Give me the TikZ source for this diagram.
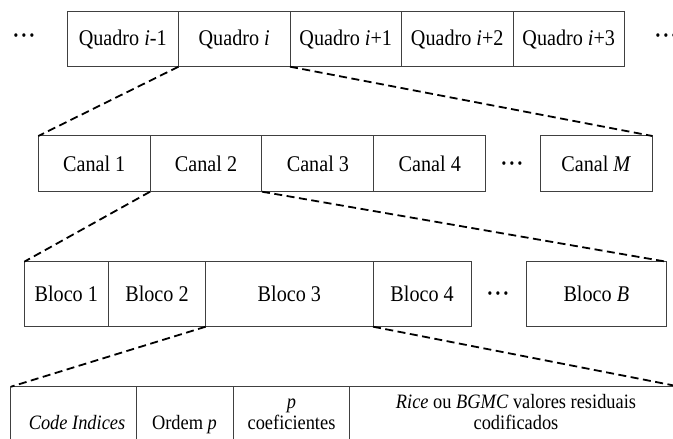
\documentclass[tikz,border=0pt]{standalone}
\usepackage{fontspec}
\setmainfont{Liberation Serif}[FakeStretch=0.9]
\newcommand{\tdots}{•\hspace{3.2bp}•\hspace{3.2bp}•}
\begin{document}
\begin{tikzpicture}[x=1bp,y=-1bp,
  cell/.style args={#1/#2}{draw=black!75, line width=1bp, inner sep=0pt, outer sep=0pt,
    minimum width=#1bp, minimum height=#2bp, font=\fontsize{22.5}{26}\selectfont},
  conn/.style={draw=black, line width=1.8bp, dash pattern=on 8bp off 4.5bp},
  dots/.style={inner sep=0pt, anchor=base, font=\fontsize{15}{18}\selectfont},
  txt/.style={inner sep=0pt, align=center, anchor=base, font=\fontsize{20.5}{21}\selectfont}
]
\useasboundingbox (0,0) rectangle (673,439);
\clip (0,0) rectangle (673,439);

% row 1
\node[cell=111.5/55] (q1) at (122.75,39.2) {Quadro \textit{i}-1};
\node[cell=111.5/55] (q2) at (234.25,39.2) {Quadro \textit{i}};
\node[cell=111.5/55] (q3) at (345.75,39.2) {Quadro \textit{i}+1};
\node[cell=111.5/55] (q4) at (457.25,39.2) {Quadro \textit{i}+2};
\node[cell=111.5/55] (q5) at (568.75,39.2) {Quadro \textit{i}+3};
\node[dots] (dl) at (24,41) {\tdots};
\node[dots] (dr) at (666,41) {\tdots};

% row 2
\node[cell=111.85/55.7] (c1) at (94.2,163.85) {Canal 1};
\node[cell=111.85/55.7] (c2) at (206.05,163.85) {Canal 2};
\node[cell=111.85/55.7] (c3) at (317.9,163.85) {Canal 3};
\node[cell=111.85/55.7] (c4) at (429.75,163.85) {Canal 4};
\node[dots] (cd) at (512,168.3) {\tdots};
\node[cell=112/55.7] (cM) at (596.3,163.85) {Canal \textit{M}};

% row 3
\node[cell=84/65] (b1) at (66.3,294.2) {Bloco 1};
\node[cell=97.4/65] (b2) at (157,294.2) {Bloco 2};
\node[cell=167.3/65] (b3) at (289.35,294.2) {Bloco 3};
\node[cell=98.3/65] (b4) at (422.15,294.2) {Bloco 4};
\node[dots] (bd) at (498,298.3) {\tdots};
\node[cell=140/65] (bB) at (596.3,294.2) {Bloco \textit{B}};

% row 4
\node[cell=125/70] (d1) at (73.5,421.7) {};
\node[cell=97.3/70] (d2) at (184.65,421.7) {};
\node[cell=116.4/70] (d3) at (291.5,421.7) {};
\node[cell=330.3/70] (d4) at (514.85,421.7) {};
\node[txt] (t1) at (77,429) {\textit{Code Indices}};
\node[txt] (t2) at (184.5,429) {Ordem \textit{p}};
\node[txt] (t3) at (291.5,429) {\textit{p}\\coeficientes};
\node[txt] (t4) at (516,429) {\textit{Rice} ou \textit{BGMC} valores residuais\\codificados};

% connectors
\draw[conn] (q2.south west) -- (c1.north west);
\draw[conn] (q2.south east) -- (cM.north east);
\draw[conn] (c2.south west) -- (b1.north west);
\draw[conn] (c2.south east) -- (bB.north east);
\draw[conn] (b3.south west) -- (d1.north west);
\draw[conn] (b3.south east) -- (d4.north east);
\end{tikzpicture}
\end{document}
